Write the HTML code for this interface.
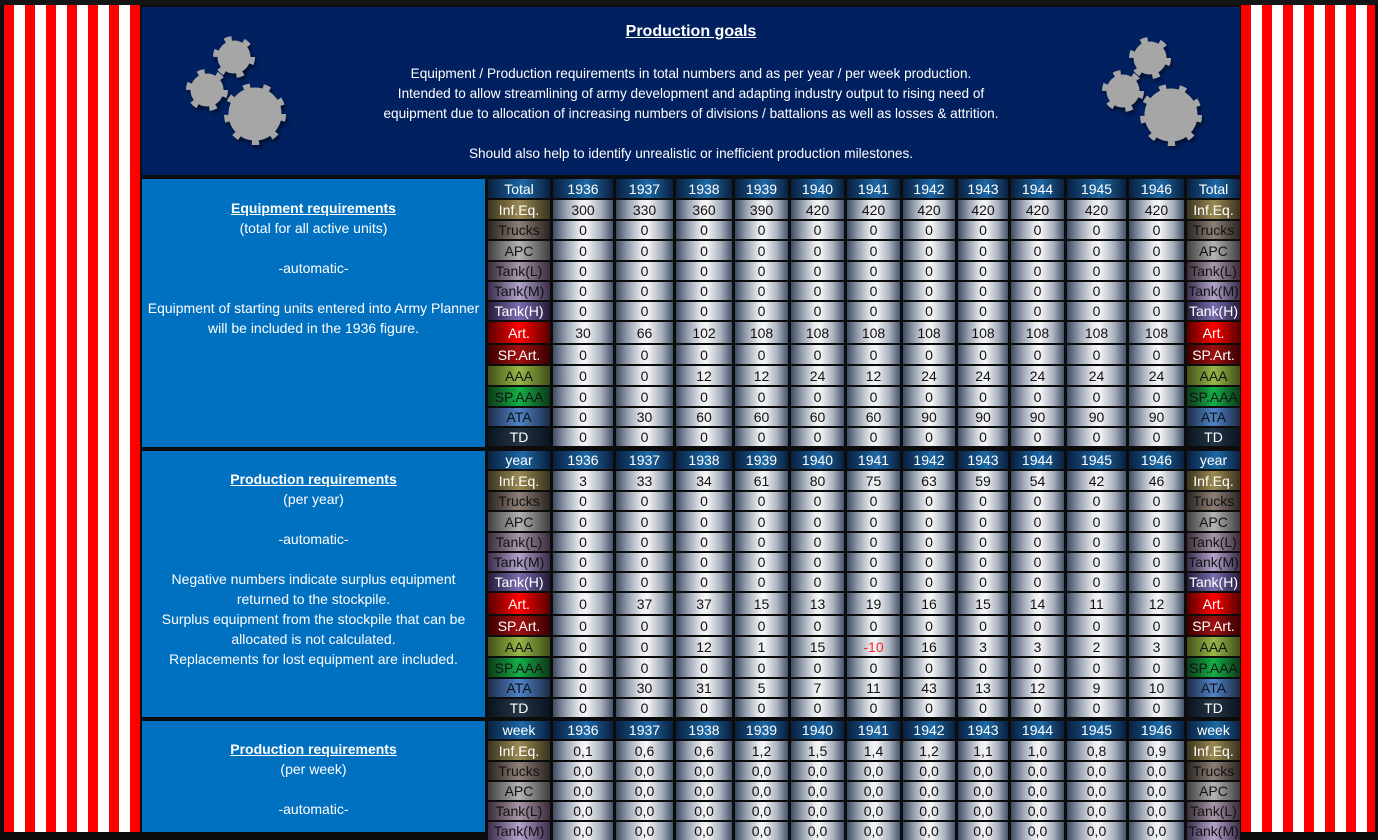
<!DOCTYPE html>
<html><head><meta charset="utf-8">
<style>
html,body{margin:0;padding:0;width:1378px;height:832px;overflow:hidden;background:#0c0c0c;font-family:"Liberation Sans",Arial,sans-serif;}
.abs{position:absolute}
.stripes{background:repeating-linear-gradient(90deg,#ff0000 0 10px,#ffffff 10px 21px);}
#hdr{left:142px;top:7px;width:1098px;height:168px;background:#002060;color:#fff;text-align:center;font-size:13.6px;}
#hdr .t{position:absolute;left:0;right:0;font-size:16px;font-weight:bold;text-decoration:underline;top:16px}
#hdr .ln{position:absolute;left:0;right:0}
.pan{left:142px;width:343px;background:#0070c0;color:#fff;text-align:center;font-size:14px;}
.pan div{position:absolute;left:0;right:0}
.pan .h{font-weight:bold;text-decoration:underline}
.g{position:absolute;left:488px;display:grid;grid-template-columns:62px 60px 57px 56px 53px 53px 53px 52px 50px 53px 59px 55px 53px;column-gap:3px;row-gap:2px;font-size:14px;}
.g>div{display:flex;align-items:center;justify-content:center;color:#111;background:linear-gradient(90deg,#3e4c62 0%,#9aa3b2 22%,#e9ebef 45%,#f6f6f8 55%,#a9b1be 80%,#46546a 100%);}
.g>div.h{color:#fff;background:linear-gradient(90deg,#0a2040 0%,#175a93 45%,#1e6aa6 55%,#0a2040 100%);}
.g>div.red{color:#ff2020}
.g>div.a{color:#fff;background:linear-gradient(90deg,#3a3420,#9a8a52 50%,#3a3420)}
.g>div.b{color:#111;background:linear-gradient(90deg,#2a2420,#8e8078 50%,#2a2420)}
.g>div.c{color:#111;background:linear-gradient(90deg,#404040,#b4b4b4 50%,#404040)}
.g>div.d{color:#111;background:linear-gradient(90deg,#3a2c3a,#a898a8 50%,#3a2c3a)}
.g>div.e{color:#111;background:linear-gradient(90deg,#3a2c4a,#b4a4cc 50%,#3a2c4a)}
.g>div.f{color:#fff;background:linear-gradient(90deg,#241c3a,#7a6cb0 50%,#241c3a)}
.g>div.i{color:#fff;background:linear-gradient(90deg,#5a0000,#ff0000 50%,#5a0000)}
.g>div.j{color:#fff;background:linear-gradient(90deg,#3a0000,#a01010 50%,#3a0000)}
.g>div.k{color:#111;background:linear-gradient(90deg,#405018,#98b848 50%,#405018)}
.g>div.m{color:#111;background:linear-gradient(90deg,#0c3a18,#14b048 50%,#0c3a18)}
.g>div.n{color:#111;background:linear-gradient(90deg,#1c2c48,#5084c8 50%,#1c2c48)}
.g>div.o{color:#fff;background:linear-gradient(90deg,#0a1420,#243444 50%,#0a1420)}
.s1{top:179px;grid-template-rows:19px 19px 18px 19px 18px 18px 18px 21px 19px 19px 19px 18px 18px}
.s2{top:451px;grid-template-rows:18px 19px 18px 19px 18px 18px 18px 21px 19px 19px 19px 18px 18px}
.s3{top:721px;grid-template-rows:18px 19px 18px 18px 18px 18px}
</style></head><body>
<div class="abs" style="left:0;top:0;width:1378px;height:5px;background:#151515"></div>
<div class="abs stripes" style="left:4px;top:5px;width:136px;height:827px"></div>
<div class="abs stripes" style="left:1241px;top:5px;width:134px;height:827px"></div>

<div id="hdr" class="abs">
<div class="t">Production goals</div>
<div class="ln" style="top:59px">Equipment / Production requirements in total numbers and as per year / per week production.</div>
<div class="ln" style="top:79px">Intended to allow streamlining of army development and adapting industry output to rising need of</div>
<div class="ln" style="top:99px">equipment due to allocation of increasing numbers of divisions / battalions as well as losses &amp; attrition.</div>
<div class="ln" style="top:139px">Should also help to identify unrealistic or inefficient production milestones.</div>
</div>
<svg class="abs" style="left:142px;top:7px" width="1098" height="168">
<defs><filter id="sh"><feDropShadow dx="2" dy="3" stdDeviation="2" flood-color="#000" flood-opacity="0.5"/></filter></defs>
<g fill="#a6a6a6" stroke="#a6a6a6" filter="url(#sh)">
<circle cx="92" cy="50" r="16"/><circle cx="92" cy="50" r="18" fill="none" stroke-width="6" stroke-dasharray="7 11.85"/>
<circle cx="65" cy="83" r="16"/><circle cx="65" cy="83" r="18" fill="none" stroke-width="6" stroke-dasharray="7 11.85"/>
<circle cx="113" cy="107" r="26"/><circle cx="113" cy="107" r="28" fill="none" stroke-width="6" stroke-dasharray="7 12.99"/>
<circle cx="1008" cy="51" r="16"/><circle cx="1008" cy="51" r="18" fill="none" stroke-width="6" stroke-dasharray="7 11.85"/>
<circle cx="981" cy="84" r="16"/><circle cx="981" cy="84" r="18" fill="none" stroke-width="6" stroke-dasharray="7 11.85"/>
<circle cx="1029" cy="108" r="26"/><circle cx="1029" cy="108" r="28" fill="none" stroke-width="6" stroke-dasharray="7 12.99"/>
</g></svg>

<div class="abs pan" style="top:179px;height:268px">
<div class="h" style="top:21px">Equipment requirements</div>
<div style="top:41px">(total for all active units)</div>
<div style="top:81px">-automatic-</div>
<div style="top:121px">Equipment of starting units entered into Army Planner</div>
<div style="top:141px">will be included in the 1936 figure.</div>
</div>
<div class="abs pan" style="top:451px;height:266px">
<div class="h" style="top:20px">Production requirements</div>
<div style="top:40px">(per year)</div>
<div style="top:80px">-automatic-</div>
<div style="top:120px">Negative numbers indicate surplus equipment</div>
<div style="top:140px">returned to the stockpile.</div>
<div style="top:160px">Surplus equipment from the stockpile that can be</div>
<div style="top:180px">allocated is not calculated.</div>
<div style="top:200px">Replacements for lost equipment are included.</div>
</div>
<div class="abs pan" style="top:721px;height:111px">
<div class="h" style="top:20px">Production requirements</div>
<div style="top:40px">(per week)</div>
<div style="top:80px">-automatic-</div>
</div>

<div class="g s1">
<div class="h">Total</div><div class="h">1936</div><div class="h">1937</div><div class="h">1938</div><div class="h">1939</div><div class="h">1940</div><div class="h">1941</div><div class="h">1942</div><div class="h">1943</div><div class="h">1944</div><div class="h">1945</div><div class="h">1946</div><div class="h">Total</div>
<div class="a">Inf.Eq.</div><div>300</div><div>330</div><div>360</div><div>390</div><div>420</div><div>420</div><div>420</div><div>420</div><div>420</div><div>420</div><div>420</div><div class="a">Inf.Eq.</div>
<div class="b">Trucks</div><div>0</div><div>0</div><div>0</div><div>0</div><div>0</div><div>0</div><div>0</div><div>0</div><div>0</div><div>0</div><div>0</div><div class="b">Trucks</div>
<div class="c">APC</div><div>0</div><div>0</div><div>0</div><div>0</div><div>0</div><div>0</div><div>0</div><div>0</div><div>0</div><div>0</div><div>0</div><div class="c">APC</div>
<div class="d">Tank(L)</div><div>0</div><div>0</div><div>0</div><div>0</div><div>0</div><div>0</div><div>0</div><div>0</div><div>0</div><div>0</div><div>0</div><div class="d">Tank(L)</div>
<div class="e">Tank(M)</div><div>0</div><div>0</div><div>0</div><div>0</div><div>0</div><div>0</div><div>0</div><div>0</div><div>0</div><div>0</div><div>0</div><div class="e">Tank(M)</div>
<div class="f">Tank(H)</div><div>0</div><div>0</div><div>0</div><div>0</div><div>0</div><div>0</div><div>0</div><div>0</div><div>0</div><div>0</div><div>0</div><div class="f">Tank(H)</div>
<div class="i">Art.</div><div>30</div><div>66</div><div>102</div><div>108</div><div>108</div><div>108</div><div>108</div><div>108</div><div>108</div><div>108</div><div>108</div><div class="i">Art.</div>
<div class="j">SP.Art.</div><div>0</div><div>0</div><div>0</div><div>0</div><div>0</div><div>0</div><div>0</div><div>0</div><div>0</div><div>0</div><div>0</div><div class="j">SP.Art.</div>
<div class="k">AAA</div><div>0</div><div>0</div><div>12</div><div>12</div><div>24</div><div>12</div><div>24</div><div>24</div><div>24</div><div>24</div><div>24</div><div class="k">AAA</div>
<div class="m">SP.AAA</div><div>0</div><div>0</div><div>0</div><div>0</div><div>0</div><div>0</div><div>0</div><div>0</div><div>0</div><div>0</div><div>0</div><div class="m">SP.AAA</div>
<div class="n">ATA</div><div>0</div><div>30</div><div>60</div><div>60</div><div>60</div><div>60</div><div>90</div><div>90</div><div>90</div><div>90</div><div>90</div><div class="n">ATA</div>
<div class="o">TD</div><div>0</div><div>0</div><div>0</div><div>0</div><div>0</div><div>0</div><div>0</div><div>0</div><div>0</div><div>0</div><div>0</div><div class="o">TD</div>
</div>

<div class="g s2">
<div class="h">year</div><div class="h">1936</div><div class="h">1937</div><div class="h">1938</div><div class="h">1939</div><div class="h">1940</div><div class="h">1941</div><div class="h">1942</div><div class="h">1943</div><div class="h">1944</div><div class="h">1945</div><div class="h">1946</div><div class="h">year</div>
<div class="a">Inf.Eq.</div><div>3</div><div>33</div><div>34</div><div>61</div><div>80</div><div>75</div><div>63</div><div>59</div><div>54</div><div>42</div><div>46</div><div class="a">Inf.Eq.</div>
<div class="b">Trucks</div><div>0</div><div>0</div><div>0</div><div>0</div><div>0</div><div>0</div><div>0</div><div>0</div><div>0</div><div>0</div><div>0</div><div class="b">Trucks</div>
<div class="c">APC</div><div>0</div><div>0</div><div>0</div><div>0</div><div>0</div><div>0</div><div>0</div><div>0</div><div>0</div><div>0</div><div>0</div><div class="c">APC</div>
<div class="d">Tank(L)</div><div>0</div><div>0</div><div>0</div><div>0</div><div>0</div><div>0</div><div>0</div><div>0</div><div>0</div><div>0</div><div>0</div><div class="d">Tank(L)</div>
<div class="e">Tank(M)</div><div>0</div><div>0</div><div>0</div><div>0</div><div>0</div><div>0</div><div>0</div><div>0</div><div>0</div><div>0</div><div>0</div><div class="e">Tank(M)</div>
<div class="f">Tank(H)</div><div>0</div><div>0</div><div>0</div><div>0</div><div>0</div><div>0</div><div>0</div><div>0</div><div>0</div><div>0</div><div>0</div><div class="f">Tank(H)</div>
<div class="i">Art.</div><div>0</div><div>37</div><div>37</div><div>15</div><div>13</div><div>19</div><div>16</div><div>15</div><div>14</div><div>11</div><div>12</div><div class="i">Art.</div>
<div class="j">SP.Art.</div><div>0</div><div>0</div><div>0</div><div>0</div><div>0</div><div>0</div><div>0</div><div>0</div><div>0</div><div>0</div><div>0</div><div class="j">SP.Art.</div>
<div class="k">AAA</div><div>0</div><div>0</div><div>12</div><div>1</div><div>15</div><div class="red">-10</div><div>16</div><div>3</div><div>3</div><div>2</div><div>3</div><div class="k">AAA</div>
<div class="m">SP.AAA</div><div>0</div><div>0</div><div>0</div><div>0</div><div>0</div><div>0</div><div>0</div><div>0</div><div>0</div><div>0</div><div>0</div><div class="m">SP.AAA</div>
<div class="n">ATA</div><div>0</div><div>30</div><div>31</div><div>5</div><div>7</div><div>11</div><div>43</div><div>13</div><div>12</div><div>9</div><div>10</div><div class="n">ATA</div>
<div class="o">TD</div><div>0</div><div>0</div><div>0</div><div>0</div><div>0</div><div>0</div><div>0</div><div>0</div><div>0</div><div>0</div><div>0</div><div class="o">TD</div>
</div>

<div class="g s3">
<div class="h">week</div><div class="h">1936</div><div class="h">1937</div><div class="h">1938</div><div class="h">1939</div><div class="h">1940</div><div class="h">1941</div><div class="h">1942</div><div class="h">1943</div><div class="h">1944</div><div class="h">1945</div><div class="h">1946</div><div class="h">week</div>
<div class="a">Inf.Eq.</div><div>0,1</div><div>0,6</div><div>0,6</div><div>1,2</div><div>1,5</div><div>1,4</div><div>1,2</div><div>1,1</div><div>1,0</div><div>0,8</div><div>0,9</div><div class="a">Inf.Eq.</div>
<div class="b">Trucks</div><div>0,0</div><div>0,0</div><div>0,0</div><div>0,0</div><div>0,0</div><div>0,0</div><div>0,0</div><div>0,0</div><div>0,0</div><div>0,0</div><div>0,0</div><div class="b">Trucks</div>
<div class="c">APC</div><div>0,0</div><div>0,0</div><div>0,0</div><div>0,0</div><div>0,0</div><div>0,0</div><div>0,0</div><div>0,0</div><div>0,0</div><div>0,0</div><div>0,0</div><div class="c">APC</div>
<div class="d">Tank(L)</div><div>0,0</div><div>0,0</div><div>0,0</div><div>0,0</div><div>0,0</div><div>0,0</div><div>0,0</div><div>0,0</div><div>0,0</div><div>0,0</div><div>0,0</div><div class="d">Tank(L)</div>
<div class="e">Tank(M)</div><div>0,0</div><div>0,0</div><div>0,0</div><div>0,0</div><div>0,0</div><div>0,0</div><div>0,0</div><div>0,0</div><div>0,0</div><div>0,0</div><div>0,0</div><div class="e">Tank(M)</div>
</div>
</body></html>
